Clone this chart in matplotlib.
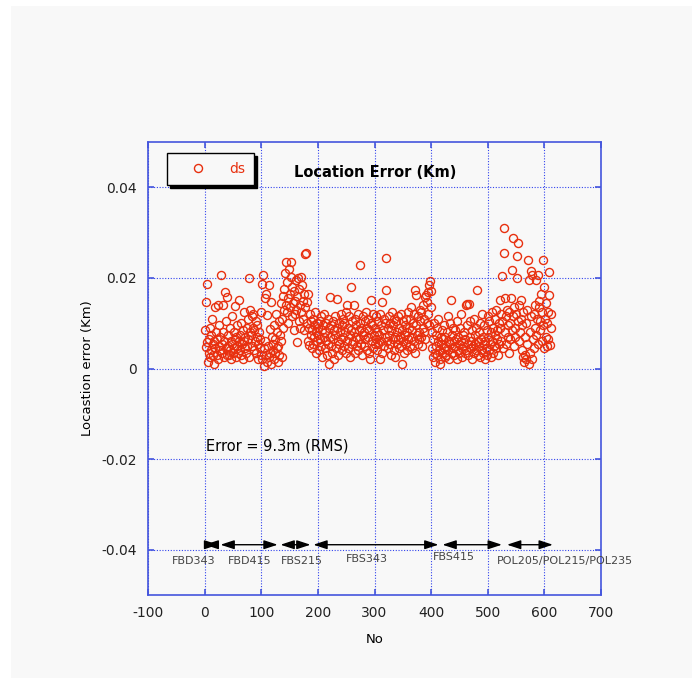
import numpy as np
import matplotlib.pyplot as plt
from matplotlib.patches import Rectangle

plt.rcParams["axes.unicode_minus"] = False

# Location error per event, in metres (event No 1..612)
err_m = np.array([
    8.5, 4.8, 14.7, 5.9, 18.7, 1.5, 3.5, 6.5, 9.0, 2.5, 4.0, 7.5, 11.0, 3.0, 5.5, 1.0, 6.0, 13.5, 4.5, 8.0,
    3.0, 6.5, 14.0, 2.0, 5.0, 9.5, 4.0, 7.0, 20.6, 3.5, 5.5, 14.0, 8.0, 2.5, 6.0, 16.9, 4.5, 10.5, 3.0, 15.8,
    5.0, 7.5, 3.0, 9.0, 4.0, 6.0, 2.0, 11.5, 5.5, 3.5, 8.0, 4.5, 6.5, 13.8, 2.5, 7.0, 5.0, 9.5, 3.5, 6.0,
    15.2, 4.0, 7.5, 3.0, 10.0, 5.5, 2.0, 8.5, 6.0, 12.5, 4.5, 7.0, 3.5, 9.0, 5.0, 11.0, 6.5, 2.5, 19.9, 8.0,
    13.0, 7.5, 11.5, 5.0, 9.0, 12.0, 4.0, 8.5, 6.0, 10.5, 3.5, 7.0, 9.5, 5.5, 2.0, 8.0, 6.5, 4.5, 12.5, 3.0,
    18.7, 2.0, 20.6, 4.5, 0.5, 15.5, 6.0, 3.0, 16.5, 1.5, 11.8, 5.0, 18.4, 2.5, 8.8, 3.5, 14.7, 1.0, 7.0, 4.0,
    5.5, 2.0, 9.5, 3.5, 6.5, 12.0, 4.5, 8.0, 1.5, 5.0, 10.5, 3.0, 7.5, 14.5, 6.0, 2.6, 11.0, 16.0, 9.0, 13.0,
    17.5, 21.0, 14.0, 23.5, 12.5, 19.0, 15.5, 10.0, 22.0, 16.5, 13.5, 23.5, 20.2, 11.5, 18.0, 14.5, 8.5, 17.0, 15.0, 12.0,
    19.5, 13.0, 16.0, 5.9, 20.0, 10.5, 17.5, 14.0, 9.0, 20.2, 12.5, 18.5, 15.0, 11.0, 16.5, 8.5, 25.2, 13.5, 25.5, 10.0,
    14.7, 6.0, 16.5, 9.0, 5.1, 12.0, 7.5, 10.5, 4.5, 8.5, 11.0, 5.5, 9.5, 7.0, 12.5, 3.5, 8.0, 10.0, 6.0, 9.0,
    7.5, 4.0, 10.5, 6.5, 11.5, 5.0, 8.5, 2.6, 9.5, 7.0, 12.0, 4.5, 8.0, 6.0, 10.0, 3.0, 11.0, 5.5, 9.0, 1.0,
    7.0, 15.8, 5.0, 9.5, 3.5, 10.5, 6.5, 8.5, 2.0, 11.5, 7.5, 4.5, 15.4, 9.0, 6.0, 3.0, 10.0, 5.5, 8.0, 12.0,
    6.5, 9.5, 4.0, 11.0, 7.0, 5.0, 10.0, 8.0, 3.5, 12.5, 14.0, 6.0, 9.0, 4.5, 11.5, 7.5, 2.5, 18.0, 8.5, 5.5,
    10.5, 6.0, 14.0, 8.0, 3.5, 11.0, 7.0, 9.5, 5.0, 12.0, 4.0, 8.5, 6.5, 10.0, 22.8, 5.5, 9.0, 3.0, 11.5, 7.5,
    8.0, 5.0, 10.5, 6.5, 12.5, 4.0, 9.0, 7.0, 11.0, 3.5, 8.5, 2.2, 10.0, 15.2, 6.0, 9.5, 4.5, 12.0, 7.5, 5.5,
    9.0, 6.5, 11.5, 4.0, 8.0, 10.5, 5.5, 7.5, 2.0, 12.0, 9.5, 6.0, 14.7, 3.5, 8.5, 11.0, 5.0, 10.0, 7.0, 17.4,
    24.5, 6.0, 9.0, 4.5, 11.5, 7.5, 5.5, 10.0, 3.0, 8.5, 12.5, 6.5, 9.5, 4.0, 11.0, 7.0, 2.5, 10.5, 5.5, 8.0,
    6.5, 11.5, 4.5, 9.0, 7.0, 12.0, 5.0, 1.1, 8.5, 10.5, 6.0, 3.5, 9.5, 7.5, 11.0, 5.5, 8.0, 4.0, 12.5, 6.5,
    9.0, 5.0, 11.0, 7.0, 13.5, 4.5, 8.5, 10.0, 6.0, 12.0, 3.5, 17.4, 16.2, 9.5, 7.5, 5.5, 11.5, 8.0, 6.5, 13.0,
    10.5, 7.0, 12.5, 5.0, 9.0, 14.0, 8.0, 11.0, 15.8, 6.5, 16.2, 10.0, 14.7, 16.9, 12.0, 18.4, 9.5, 19.3, 13.5, 17.0,
    4.5, 8.0, 2.5, 6.5, 10.0, 3.5, 1.5, 7.5, 5.0, 9.0, 3.0, 6.0, 11.0, 4.0, 2.0, 1.1, 7.0, 5.5, 8.5, 3.5,
    6.5, 4.5, 9.5, 2.5, 7.0, 5.0, 3.0, 8.0, 11.5, 4.0, 6.0, 2.2, 10.0, 5.5, 15.2, 3.5, 7.5, 4.5, 9.0, 6.0,
    3.0, 8.5, 5.0, 6.5, 2.0, 10.5, 4.0, 7.0, 5.5, 3.5, 9.0, 6.0, 12.0, 4.5, 2.5, 7.5, 5.0, 8.0, 3.5, 6.5,
    14.0, 4.0, 9.5, 14.2, 5.5, 3.0, 14.2, 7.0, 10.5, 4.5, 6.0, 2.0, 8.5, 5.0, 11.0, 3.5, 7.5, 5.5, 9.0, 4.0,
    17.3, 6.0, 3.0, 8.0, 5.0, 10.0, 2.5, 6.5, 4.0, 12.0, 7.0, 3.5, 5.5, 9.5, 2.0, 6.0, 4.5, 8.5, 3.0, 11.5,
    7.0, 4.0, 10.5, 5.5, 8.0, 2.5, 12.5, 6.0, 3.5, 9.0, 5.0, 11.0, 7.5, 4.5, 13.0, 6.5, 8.5, 3.0, 10.0, 5.5,
    15.2, 9.0, 12.0, 6.0, 20.4, 10.5, 4.5, 25.6, 31.1, 15.5, 8.0, 11.5, 5.5, 13.0, 7.0, 9.5, 3.5, 12.5, 6.5, 10.0,
    15.6, 21.7, 8.5, 28.7, 11.5, 5.0, 13.5, 9.0, 7.0, 12.0, 24.8, 20.0, 27.6, 10.5, 6.0, 14.0, 8.0, 15.2, 11.0, 4.0,
    9.5, 2.5, 12.5, 1.5, 7.0, 3.0, 10.0, 2.0, 5.5, 13.0, 24.0, 1.0, 19.5, 3.5, 8.0, 21.5, 11.5, 2.0, 20.6, 6.5,
    12.0, 4.5, 9.0, 14.0, 19.5, 7.5, 11.0, 20.6, 5.5, 13.5, 14.9, 8.5, 10.5, 16.5, 6.0, 12.5, 23.9, 9.5, 4.5, 17.9,
    11.0, 7.0, 14.5, 5.0, 10.0, 12.5, 6.5, 16.2, 21.2, 5.1, 9.0, 12.1,
])
event_no = np.arange(1, len(err_m) + 1)
err_km = err_m / 1000.0

# Data-set ranges shown as arrows at the bottom
seg_names = ["FBD343", "FBD415", "FBS215", "FBS343", "FBS415", "POL205/POL215/POL235"]
seg_start = [0, 28, 134, 192, 420, 534]
seg_end = [24, 129, 187, 413, 525, 615]
seg_label_x = [-19, 80, 172, 286, 440, 637]
seg_label_y = [-0.0424, -0.0424, -0.0424, -0.0421, -0.0417, -0.0424]

x_ticks = [-100, 0, 100, 200, 300, 400, 500, 600, 700]
y_ticks = [-0.04, -0.02, 0, 0.02, 0.04]
y_tick_labels = ["-0.04", "-0.02", "0", "0.02", "0.04"]

BLUE = "#4455dd"
RED = "#e8300f"
PANEL = "#f8f8f8"

fig = plt.figure(figsize=(6.95, 6.78), dpi=100, facecolor="white")
fig.patches.append(Rectangle((11 / 695, 0), 681 / 695, 672 / 678,
                             transform=fig.transFigure, facecolor=PANEL,
                             edgecolor="none", zorder=-10))
ax = fig.add_axes([148 / 695, 1 - 595 / 678, 453 / 695, 453 / 678])
ax.set_facecolor(PANEL)

ax.plot(event_no, err_km, "o", mfc="none", mec=RED, ms=5.8, mew=1.0, label="ds")

ax.set_xlim(-100, 700)
ax.set_ylim(-0.05, 0.05)
ax.set_xticks(x_ticks)
ax.set_yticks(y_ticks)
ax.set_yticklabels(y_tick_labels)
ax.grid(True, color="#3344ee", linestyle=(0, (1, 1.5)), linewidth=0.8)
for s in ax.spines.values():
    s.set_color(BLUE)
    s.set_linewidth(1.2)
ax.tick_params(direction="in", length=4, width=1.2, color=BLUE,
               top=True, right=True, labelsize=10, labelcolor="#222222", pad=8)

ax.set_xlabel("No", fontsize=9.5, labelpad=9)
ax.set_ylabel("Locastion error (Km)", fontsize=9.5, labelpad=5)

# range arrows and their labels
for name, a, b, lx, ly in zip(seg_names, seg_start, seg_end, seg_label_x, seg_label_y):
    ax.annotate("", xy=(b, -0.0389), xytext=(a, -0.0389),
                arrowprops=dict(arrowstyle="<|-|>,head_length=0.55,head_width=0.18",
                                color="black", lw=1, shrinkA=0, shrinkB=0,
                                mutation_scale=15))
    ax.text(lx, ly, name, ha="center", va="center", fontsize=8, color="#444444")

ax.text(302, 0.0433, "Location Error (Km)", ha="center", va="center",
        fontsize=10.5, fontweight="bold")
ax.text(2, -0.0171, "Error = 9.3m (RMS)", ha="left", va="center", fontsize=10.5)

leg = ax.legend(loc="upper left", bbox_to_anchor=(0.042, 0.976), borderaxespad=0,
                fontsize=10, handlelength=3.2, handletextpad=0.6, borderpad=0.65,
                fancybox=False, edgecolor="black", facecolor=PANEL, framealpha=1,
                shadow={"color": "black", "alpha": 1})
leg.get_frame().set_linewidth(1.0)
for t in leg.get_texts():
    t.set_color(RED)

fig.savefig("out.png", dpi=100, facecolor=fig.get_facecolor())
